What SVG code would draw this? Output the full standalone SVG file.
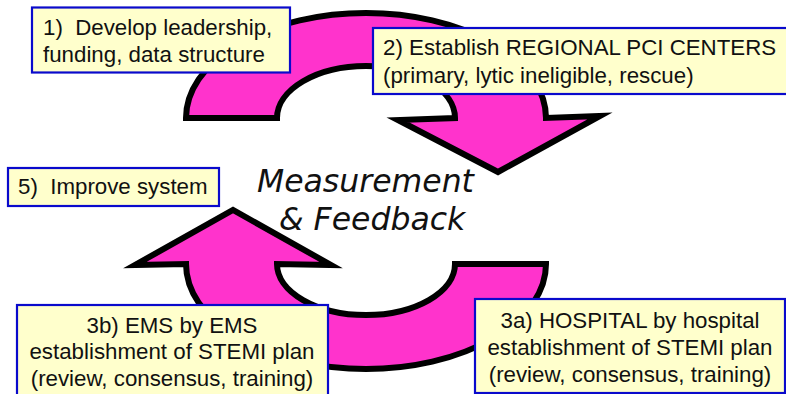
<svg xmlns="http://www.w3.org/2000/svg" width="786" height="394" viewBox="0 0 786 394">
<style>
.arrow{fill:#FF33CC;stroke:#000;stroke-width:6;stroke-linejoin:miter;stroke-miterlimit:10}
.box{fill:#FFFFCC;stroke:#0A0ACC;stroke-width:2.2}
.t{font-family:"Liberation Sans",Arial,sans-serif;font-size:22.3px;fill:#111;white-space:pre}
.c{text-anchor:middle}
.big{font-family:"DejaVu Sans",Verdana,sans-serif;font-style:italic;font-size:31.5px;fill:#111}
</style>
<rect width="786" height="394" fill="#fff"/>
<g id="connectors">
<path class="arrow" d="M186,118 A180,105 0 0 1 546,118 L600,116 L498,172 L398,120 L455,118 A89,52 0 0 0 277,118 Z"/>
<path class="arrow" d="M546,264 A180,105 0 0 1 186,264 L135,265 L233,210 L331,265 L277,264 A89,51 0 0 0 455,264 Z"/>
</g>
<g id="center-label">
<text class="big" x="257" y="192">Measurement</text>
<text class="big" x="279" y="230">&amp; Feedback</text>
</g>
<g id="node1">
<rect class="box" x="32" y="7.5" width="258" height="65"/>
<text class="t" x="43" y="35" xml:space="preserve">1)  Develop leadership,</text>
<text class="t" x="43" y="62">funding, data structure</text>
</g>
<g id="node2">
<rect class="box" x="373" y="28" width="420" height="66"/>
<text class="t" x="383" y="55">2) Establish REGIONAL PCI CENTERS</text>
<text class="t" x="383" y="83">(primary, lytic ineligible, rescue)</text>
</g>
<g id="node5">
<rect class="box" x="8" y="168" width="211" height="38"/>
<text class="t" x="18" y="194" xml:space="preserve">5)  Improve system</text>
</g>
<g id="node3b">
<rect class="box" x="17" y="305" width="311" height="96"/>
<text class="t c" x="172" y="333">3b) EMS by EMS</text>
<text class="t c" x="172" y="359">establishment of STEMI plan</text>
<text class="t c" x="172" y="386">(review, consensus, training)</text>
</g>
<g id="node3a">
<rect class="box" x="475" y="299" width="310" height="94"/>
<text class="t c" x="630" y="328">3a) HOSPITAL by hospital</text>
<text class="t c" x="630" y="355">establishment of STEMI plan</text>
<text class="t c" x="630" y="382">(review, consensus, training)</text>
</g>
</svg>
